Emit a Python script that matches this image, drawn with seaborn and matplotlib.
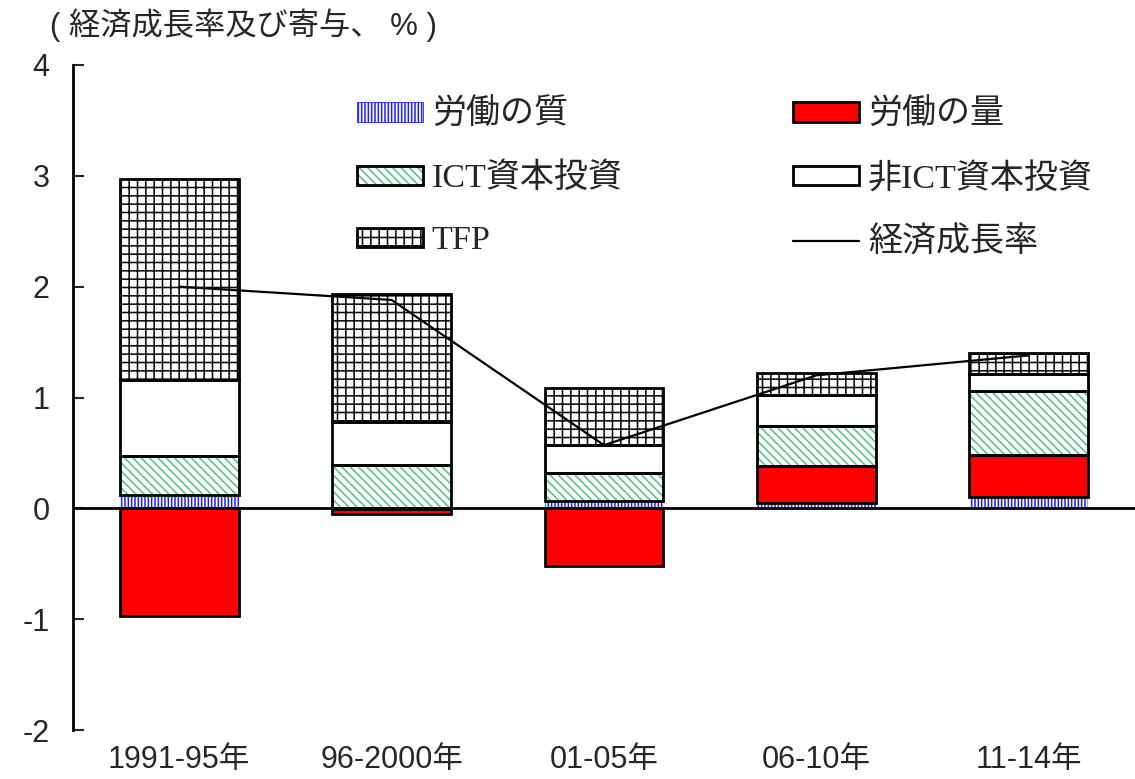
import matplotlib
matplotlib.use("Agg")
import matplotlib.pyplot as plt
from matplotlib.patches import Patch
from matplotlib.lines import Line2D
import numpy as np
import pandas as pd
import seaborn as sns

sns.set_theme(style="white")
plt.rcParams["font.family"] = ["Liberation Sans", "Noto Sans CJK JP"]
plt.rcParams["hatch.linewidth"] = 1.1

PERIODS = ["1991-95年", "96-2000年", "01-05年", "06-10年", "11-14年"]
LABOR_QUALITY = [0.12, -0.01, 0.07, 0.05, 0.10]
LABOR_QUANTITY = [-0.97, -0.04, -0.52, 0.33, 0.38]
ICT_CAPITAL = [0.35, 0.39, 0.25, 0.36, 0.58]
NON_ICT_CAPITAL = [0.69, 0.39, 0.25, 0.28, 0.15]
TFP = [1.81, 1.15, 0.52, 0.20, 0.19]
GDP_GROWTH = [2.00, 1.88, 0.57, 1.20, 1.38]

YTICKS = [-2, -1, 0, 1, 2, 3, 4]
TITLE = "( 経済成長率及び寄与、 % )"

# (name, values, face, hatch, hatch colour, outline)
LAYERS = [
    ("労働の質", LABOR_QUALITY, "white", "|||||", "#1f1fff", False),
    ("労働の量", LABOR_QUANTITY, "#ff0000", None, "black", True),
    ("ICT資本投資", ICT_CAPITAL, "white", "\\\\\\\\", "#52c084", True),
    ("非ICT資本投資", NON_ICT_CAPITAL, "white", None, "black", True),
    ("TFP", TFP, "white", "++", "black", True),
]

fig = plt.figure(figsize=(11.35, 7.79), dpi=100)
ax = fig.add_axes([73 / 1135, 1 - 730 / 779, 1 - 73 / 1135, (730 - 65) / 779])

BAR_W = 0.56
pos_base = np.zeros(len(PERIODS))
neg_base = np.zeros(len(PERIODS))
handles = {}
for name, vals, face, hatch, hcol, outline in LAYERS:
    vals = np.asarray(vals, dtype=float)
    bottom = np.where(vals >= 0, pos_base, neg_base)
    df = pd.DataFrame({"period": PERIODS, "value": vals})
    sns.barplot(data=df, x="period", y="value", order=PERIODS, bottom=bottom,
                width=BAR_W, color=face, saturation=1, facecolor=face,
                edgecolor=hcol, hatch=hatch, linewidth=0, errorbar=None,
                ax=ax, zorder=2)
    if outline:
        sns.barplot(data=df, x="period", y="value", order=PERIODS, bottom=bottom,
                    width=BAR_W, fill=False, color="black", saturation=1,
                    edgecolor="black", linewidth=2, errorbar=None, ax=ax, zorder=3)
        handles[name] = (Patch(facecolor=face, edgecolor=hcol, hatch=hatch, linewidth=0),
                         Patch(facecolor="none", edgecolor="black", linewidth=2))
    else:
        handles[name] = Patch(facecolor=face, edgecolor=hcol, hatch=hatch, linewidth=0.6)
    pos_base = pos_base + np.where(vals >= 0, vals, 0)
    neg_base = neg_base + np.where(vals < 0, vals, 0)

sns.lineplot(x=np.arange(len(PERIODS)), y=GDP_GROWTH, color="black",
             linewidth=1.6, ax=ax, zorder=5)
handles["経済成長率"] = Line2D([], [], color="black", linewidth=1.6)

ax.axhline(0, color="black", linewidth=2, zorder=4)
ax.set_xlim(-0.5, 4.5)
ax.set_ylim(-2, 4)
ax.set_yticks(YTICKS)
ax.set_yticklabels([str(t) for t in YTICKS])
ax.set_xlabel("")
ax.set_ylabel("")
for side in ["top", "right", "bottom"]:
    ax.spines[side].set_visible(False)
ax.spines["left"].set_linewidth(2)
ax.spines["left"].set_color("black")
ax.tick_params(axis="y", direction="in", length=8, width=1.5, pad=17,
               labelsize=22, left=True)
ax.tick_params(axis="x", length=0, pad=11, labelsize=22)

order = ["労働の質", "ICT資本投資", "TFP", "労働の量", "非ICT資本投資", "経済成長率"]
leg = ax.legend([handles[k] for k in order], order, ncol=2, frameon=False,
                loc="upper left", bbox_to_anchor=(357 / 1135, 1 - 99 / 779),
                bbox_transform=fig.transFigure, borderpad=0, borderaxespad=0,
                handlelength=1.95, handleheight=0.5, handletextpad=0.25,
                labelspacing=0.93, columnspacing=5.0,
                prop={"family": ["Liberation Serif", "Noto Sans CJK JP"], "size": 24.5})

fig.text(50 / 1135, 1 - 25 / 779, TITLE, fontsize=22.5, va="center", ha="left",
         family=["Liberation Sans", "Noto Sans CJK JP"])

fig.savefig("out.png", dpi=100)
